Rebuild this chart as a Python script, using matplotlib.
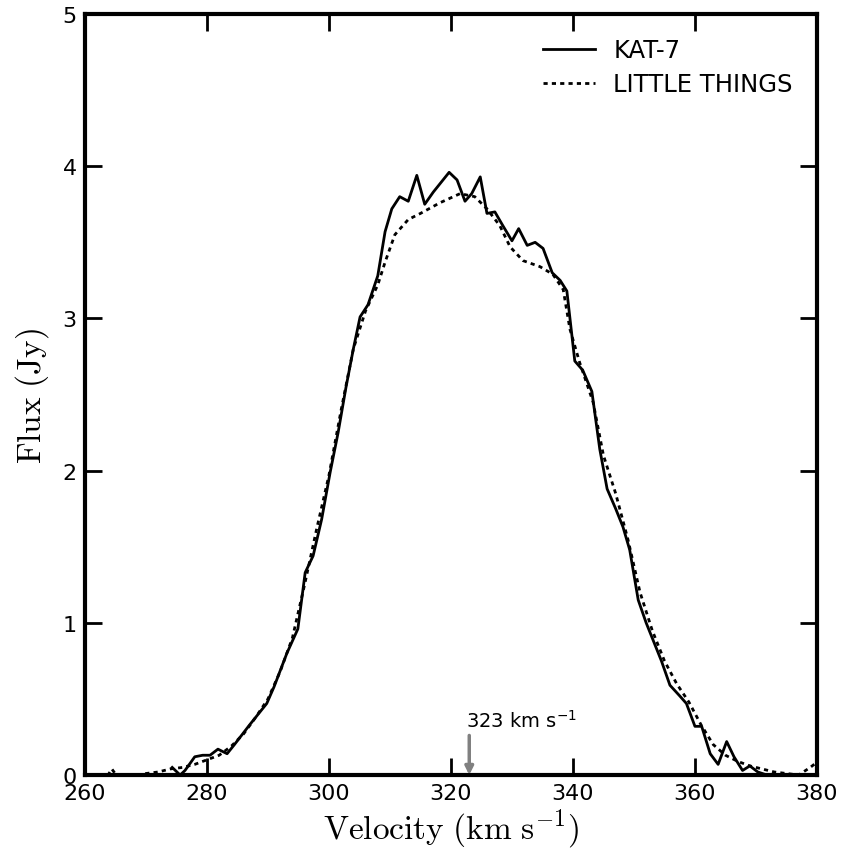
import numpy as np
import matplotlib
matplotlib.use("Agg")
import matplotlib.pyplot as plt

# KAT-7 spectrum (velocity km/s, flux Jy)
kat_v = [274.3, 275.6, 276.4, 278.0, 279.3, 280.5, 281.8, 283.3, 284.5, 287.0,
         289.8, 291.0, 293.1, 294.9, 296.1, 297.4, 298.8, 300.2, 301.5, 302.8,
         304.0, 305.1, 306.4, 308.0, 309.2, 310.3, 311.6, 313.0, 314.4, 315.7,
         317.1, 318.5, 319.7, 321.0, 322.3, 323.4, 324.8, 325.9, 327.2, 328.5,
         330.0, 331.1, 332.5, 333.8, 335.1, 336.6, 337.9, 339.0, 340.3, 341.6,
         343.1, 344.4, 345.6, 347.0, 348.2, 349.3, 350.7, 352.0, 353.1, 354.5,
         355.9, 357.5, 358.6, 360.0, 361.1, 362.5, 363.8, 365.2, 366.4, 367.8,
         369.0, 370.3, 371.8]
kat_f = [0.05, 0.00, 0.03, 0.12, 0.13, 0.13, 0.17, 0.14, 0.20, 0.33,
         0.47, 0.58, 0.80, 0.96, 1.33, 1.44, 1.68, 1.99, 2.25, 2.55,
         2.80, 3.01, 3.09, 3.28, 3.57, 3.72, 3.80, 3.77, 3.94, 3.75,
         3.83, 3.90, 3.96, 3.91, 3.77, 3.82, 3.93, 3.69, 3.70, 3.61,
         3.51, 3.59, 3.48, 3.50, 3.46, 3.30, 3.25, 3.18, 2.72, 2.66,
         2.52, 2.14, 1.88, 1.75, 1.63, 1.48, 1.15, 1.00, 0.89, 0.75,
         0.59, 0.52, 0.47, 0.32, 0.32, 0.14, 0.07, 0.22, 0.12, 0.03,
         0.06, 0.02, 0.00]

# LITTLE THINGS spectrum
lt_v = [263.0, 264.4, 266.0, 268.5, 270.0, 272.0, 274.0, 276.0, 278.0, 280.0,
        282.0, 284.0, 286.0, 288.0, 290.0, 292.0, 294.0, 296.0, 298.0, 300.0,
        302.0, 304.0, 306.0, 308.0, 309.2, 310.8, 313.0, 315.0, 318.2, 321.5,
        323.9, 325.9, 328.0, 329.7, 331.8, 334.6, 336.7, 338.4, 339.5, 341.1,
        343.3, 345.0, 347.0, 349.0, 351.0, 353.0, 355.0, 357.0, 359.0, 361.0,
        363.0, 365.0, 367.0, 369.0, 371.0, 373.0, 375.0, 377.0, 378.9, 380.5]
lt_f = [-0.05, 0.04, -0.05, -0.01, 0.01, 0.02, 0.04, 0.05, 0.07, 0.10,
        0.13, 0.19, 0.27, 0.38, 0.50, 0.68, 0.90, 1.25, 1.62, 1.97,
        2.40, 2.80, 3.05, 3.22, 3.37, 3.55, 3.65, 3.69, 3.76, 3.82,
        3.80, 3.72, 3.61, 3.47, 3.38, 3.34, 3.29, 3.19, 2.93, 2.71,
        2.45, 2.10, 1.85, 1.55, 1.20, 0.95, 0.75, 0.60, 0.48, 0.33,
        0.20, 0.13, 0.09, 0.06, 0.04, 0.02, 0.01, 0.00, 0.05, 0.10]

v_sys = 323

plt.rcParams['mathtext.fontset'] = 'cm'

fig = plt.figure(figsize=(8.43, 8.54), dpi=100)
ax = fig.add_axes([0.1008, 0.0913, 0.8683, 0.8911])

ax.plot(kat_v, kat_f, color='k', lw=2, label='KAT-7')
ax.plot(lt_v, lt_f, color='k', lw=2, linestyle=(0, (1.5, 1.5)), label='LITTLE THINGS')

# flecha de la velocidad sistemica
ax.annotate('', xy=(v_sys, 0.0), xytext=(v_sys, 0.26),
            arrowprops=dict(arrowstyle='-|>', color='gray', lw=2.5, mutation_scale=12,
                            shrinkA=0, shrinkB=0))
ax.text(v_sys - 0.5, 0.29, r'323 km s$^{-1}$', fontsize=14, ha='left', va='bottom',
        math_fontfamily='dejavusans')

ax.set_xlim(260, 380)
ax.set_ylim(0, 5)
ax.set_xticks(np.arange(260, 381, 20))
ax.set_yticks(np.arange(0, 6, 1))
ax.tick_params(direction='in', length=12, width=2, labelsize=16,
               top=True, right=True, pad=6)
for s in ax.spines.values():
    s.set_linewidth(3)

ax.set_xlabel(r'$\mathrm{Velocity\ (km\ s^{-1})}$', fontsize=24, labelpad=2)
ax.set_ylabel(r'$\mathrm{Flux\ (Jy)}$', fontsize=24, labelpad=8)

ax.legend(loc='upper right', frameon=False, fontsize=17.5, handlelength=2.15,
          handletextpad=0.75, labelspacing=0.4, borderaxespad=0.6)

fig.savefig('out.png', dpi=100)
